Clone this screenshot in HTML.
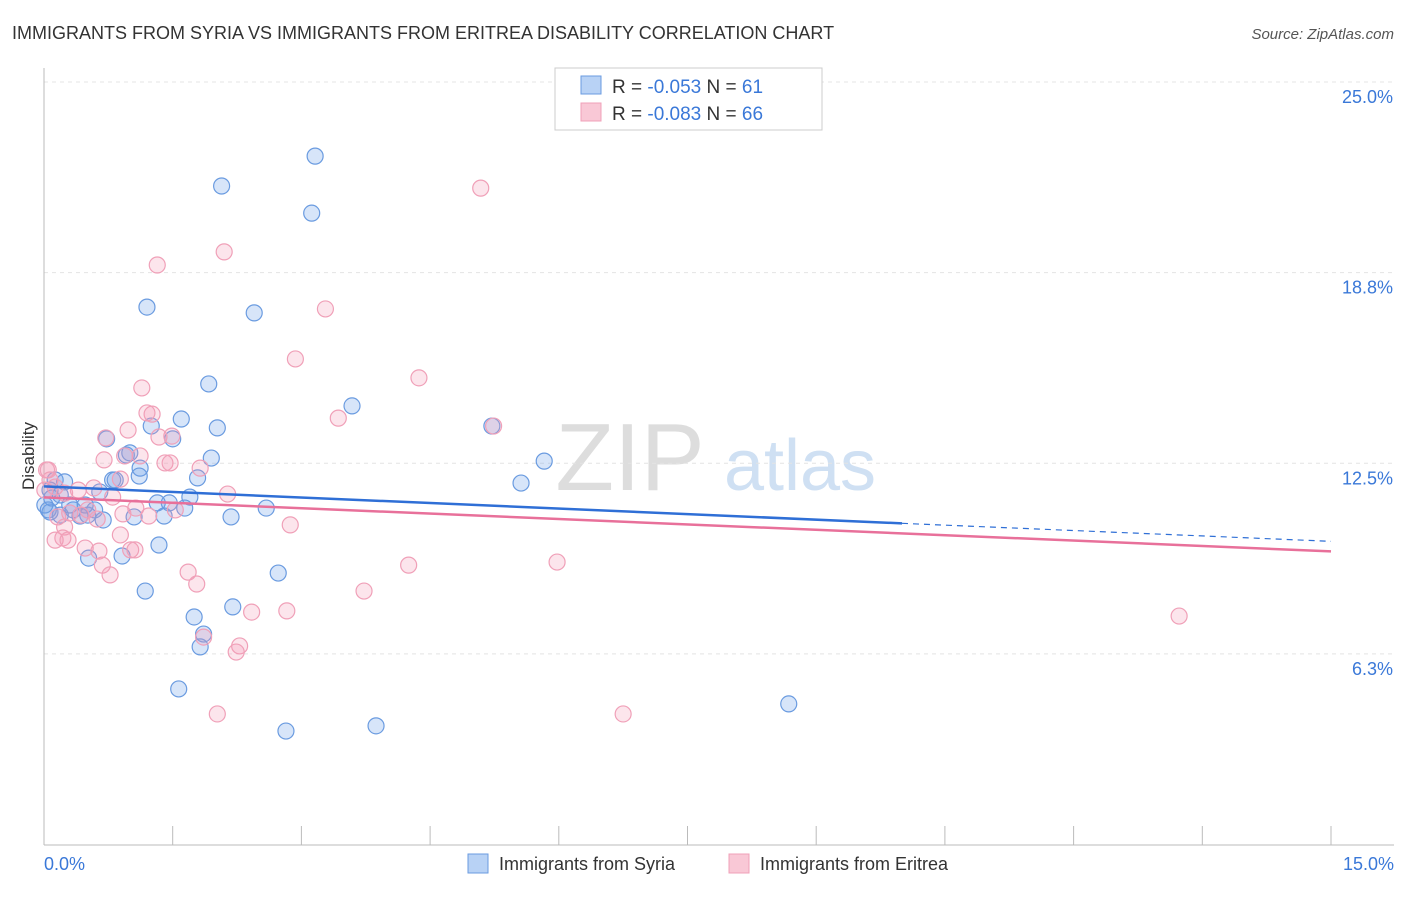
<!DOCTYPE html>
<html><head><meta charset="utf-8"><style>
body{margin:0;background:#fff;font-family:"Liberation Sans",sans-serif;}
svg text{font-family:"Liberation Sans",sans-serif;}
</style></head><body>
<svg id="c" width="1406" height="892">
<text x="12" y="39" font-size="18" fill="#333">IMMIGRANTS FROM SYRIA VS IMMIGRANTS FROM ERITREA DISABILITY CORRELATION CHART</text>
<text x="1394" y="39" font-size="15" fill="#555" font-style="italic" text-anchor="end">Source: ZipAtlas.com</text>
<text x="34" y="456" font-size="17" fill="#333" text-anchor="middle" transform="rotate(-90 34 456)">Disability</text>
<g><text x="630" y="490" font-size="96" fill="#ddd" font-family="Liberation Serif" text-anchor="middle">ZIP</text><text x="800" y="490" font-size="72" fill="#cfe0f3" text-anchor="middle">atlas</text></g>
<g id="grid"></g><g id="pts"></g><g id="lines"></g>
<g>
<rect x="555" y="68" width="267" height="62" fill="#fff" stroke="#ccc"/>
<rect x="581" y="76" width="20" height="18" fill="#b8d2f5" stroke="#6a9be0"/>
<rect x="581" y="103" width="20" height="18" fill="#f9c8d6" stroke="#f0a0b8"/>
<text x="612" y="93" font-size="19" fill="#333">R = <tspan fill="#3a78d8">-0.053</tspan>   N = <tspan fill="#3a78d8"> 61</tspan></text>
<text x="612" y="120" font-size="19" fill="#333">R = <tspan fill="#3a78d8">-0.083</tspan>   N = <tspan fill="#3a78d8">66</tspan></text>
</g>
<g>
<rect x="468" y="854" width="20" height="19" fill="#b8d2f5" stroke="#6a9be0"/>
<text x="499" y="870" font-size="18" fill="#333">Immigrants from Syria</text>
<rect x="729" y="854" width="20" height="19" fill="#f9c8d6" stroke="#f0a0b8"/>
<text x="760" y="870" font-size="18" fill="#333">Immigrants from Eritrea</text>
</g>
<text x="44" y="870" font-size="18" fill="#3a78d8">0.0%</text>
<text x="1394" y="870" font-size="18" fill="#3a78d8" text-anchor="end">15.0%</text>
</svg>
<script>
const yTicks=[25,18.75,12.5,6.25];
const yTickLabels=["25.0%","18.8%","12.5%","6.3%"];
const xTicks=[0,1.5,3,4.5,6,7.5,9,10.5,12,13.5,15];
const syriaPx=[[315,156],[222,186],[312,213],[147,307],[254,313],[209,384],[352,406],[181,419],[151,426],[217,428],[107,439],[173,439],[544,461],[211,458],[126,455],[130,453],[140,468],[113,480],[139,476],[521,483],[198,478],[55,480],[65,482],[50,490],[100,492],[190,497],[169,503],[157,503],[185,508],[266,508],[73,510],[95,510],[80,516],[60,515],[134,517],[103,520],[164,516],[231,517],[50,512],[159,545],[122,556],[89,558],[278,573],[145,591],[233,607],[194,617],[204,634],[200,647],[179,689],[789,704],[286,731],[376,726],[492,426],[45,505],[88,515],[115,480],[60,495],[70,505],[85,505],[52,498],[48,510]];
const eritreaPx=[[481,188],[224,252],[157,265],[325,309],[295,359],[419,378],[142,388],[152,414],[147,413],[338,418],[494,426],[128,430],[106,438],[172,436],[159,437],[104,460],[125,456],[165,463],[170,463],[140,456],[200,468],[120,479],[47,470],[55,487],[65,493],[78,490],[94,488],[228,494],[113,497],[136,508],[175,510],[149,516],[123,514],[81,515],[88,510],[70,513],[58,517],[290,525],[120,535],[65,527],[63,538],[55,540],[68,540],[85,548],[131,550],[99,551],[135,550],[102,565],[188,572],[409,565],[557,562],[110,575],[197,584],[364,591],[252,612],[287,611],[1179,616],[204,637],[240,646],[236,652],[217,714],[623,714],[48,470],[50,480],[45,490],[97,519]];
// convert read pixel positions to data values (x %, y %)
const syriaX=syriaPx.map(p=>+((p[0]-44)/85.8).toFixed(2));
const syriaY=syriaPx.map(p=>+(25-(p[1]-82)/30.5).toFixed(2));
const eritreaX=eritreaPx.map(p=>+((p[0]-44)/85.8).toFixed(2));
const eritreaY=eritreaPx.map(p=>+(25-(p[1]-82)/30.5).toFixed(2));
const syriaTrend=[11.74,10.53,9.94];
const eritreaTrend=[11.38,9.61];
const X=v=>44+v*85.8, Y=v=>82+(25-v)*30.5;
const NS="http://www.w3.org/2000/svg";
function mk(parent,tag,attrs){const e=document.createElementNS(NS,tag);for(const k in attrs)e.setAttribute(k,attrs[k]);parent.appendChild(e);return e;}
const g=document.getElementById('grid');
yTicks.forEach((t,i)=>{
 const l=mk(g,'line',{x1:44,x2:1394,y1:Y(t),y2:Y(t),stroke:'#e4e4e4','stroke-dasharray':'4 4'});
 
 
 const tx=mk(g,'text',{x:1393,y:Y(t)+21,'font-size':18,fill:'#3a78d8','text-anchor':'end'});
 tx.textContent=yTickLabels[i];
 
 
});
const ax=mk(g,'line',{x1:44,x2:1394,y1:845,y2:845,stroke:'#bbb'});


const ay=mk(g,'line',{x1:44,x2:44,y1:68,y2:845,stroke:'#bbb'});


xTicks.forEach(t=>{
 const l=mk(g,'line',{x1:X(t),x2:X(t),y1:826,y2:845,stroke:'#bbb'});
 
 
});
const pg=document.getElementById('pts');
function pts(xs,ys,fill,stroke,name){
 xs.forEach((x,i)=>{
  const c=mk(pg,'circle',{cx:X(x),cy:Y(ys[i]),r:8,fill:fill,stroke:stroke,'stroke-width':1.2});
  
  
 });
}
pts(syriaX,syriaY,'rgba(110,160,235,0.28)','#6a9be0','syria-point');
pts(eritreaX,eritreaY,'rgba(245,150,180,0.25)','#f0a0b8','eritrea-point');
const lg=document.getElementById('lines');
const b1=mk(lg,'line',{x1:X(0),y1:Y(syriaTrend[0]),x2:X(10),y2:Y(syriaTrend[1]),stroke:'#2f6fd6','stroke-width':2.5});


const b2=mk(lg,'line',{x1:X(10),y1:Y(syriaTrend[1]),x2:X(15),y2:Y(syriaTrend[2]),stroke:'#2f6fd6','stroke-width':1.2,'stroke-dasharray':'6 5'});


const p1=mk(lg,'line',{x1:X(0),y1:Y(eritreaTrend[0]),x2:X(15),y2:Y(eritreaTrend[1]),stroke:'#e8709a','stroke-width':2.5});


</script>
</body></html>
